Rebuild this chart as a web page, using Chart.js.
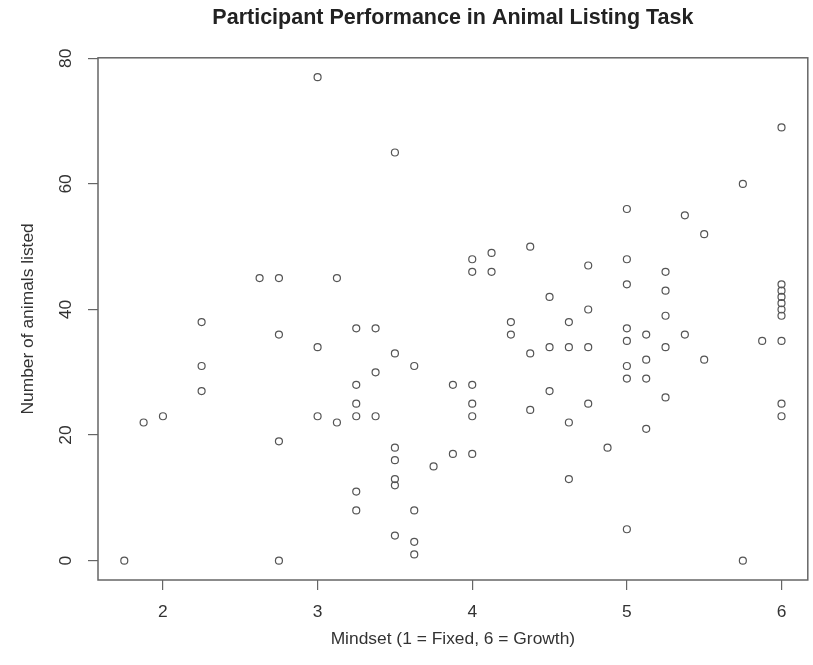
<!DOCTYPE html>
<html>
<head>
<meta charset="utf-8">
<title>Participant Performance in Animal Listing Task</title>
<script src="https://cdn.jsdelivr.net/npm/chart.js@4"></script>
<style>
    body { margin: 0; background: #fff; }
    canvas { display: block; }
</style>
</head>
<body>
<canvas id="scatterChart" width="813" height="665"></canvas>
<script>
// Scatter data (mindset score, animals listed)
const mindset = [
    1.75, 1.875, 2,
    2.25, 2.25, 2.25,
    2.625,
    2.75, 2.75, 2.75, 2.75,
    3, 3, 3,
    3.125, 3.125,
    3.25, 3.25, 3.25, 3.25, 3.25, 3.25,
    3.375, 3.375, 3.375,
    3.5, 3.5, 3.5, 3.5, 3.5, 3.5, 3.5,
    3.625, 3.625, 3.625, 3.625,
    3.75,
    3.875, 3.875,
    4, 4, 4, 4, 4, 4,
    4.125, 4.125,
    4.25, 4.25,
    4.375, 4.375, 4.375,
    4.5, 4.5, 4.5,
    4.625, 4.625, 4.625, 4.625,
    4.75, 4.75, 4.75, 4.75,
    4.875,
    5, 5, 5, 5, 5, 5, 5, 5,
    5.125, 5.125, 5.125, 5.125,
    5.25, 5.25, 5.25, 5.25, 5.25,
    5.375, 5.375,
    5.5, 5.5,
    5.75, 5.75,
    5.875,
    6, 6, 6, 6, 6, 6, 6, 6, 6, 6
];
const animals = [
    0, 22, 23,
    38, 31, 27,
    45,
    45, 36, 19, 0,
    77, 34, 23,
    45, 22,
    37, 28, 25, 23, 11, 8,
    37, 30, 23,
    65, 33, 18, 16, 13, 12, 4,
    31, 8, 3, 1,
    15,
    28, 17,
    48, 46, 28, 25, 23, 17,
    49, 46,
    38, 36,
    50, 33, 24,
    42, 34, 27,
    38, 34, 22, 13,
    47, 40, 34, 25,
    18,
    56, 48, 44, 37, 35, 31, 29, 5,
    36, 32, 29, 21,
    46, 43, 39, 34, 26,
    55, 36,
    52, 32,
    60, 0,
    35,
    69, 44, 43, 42, 41, 40, 39, 35, 25, 23
];

const xTicks = [2, 3, 4, 5, 6];
const yTicks = [0, 20, 40, 60, 80];

const points = mindset.map((m, i) => ({ x: m, y: animals[i] }));

// R style box around the plot region
const boxPlugin = {
    id: 'plotBox',
    afterDraw(chart) {
        const { ctx, chartArea } = chart;
        ctx.save();
        ctx.strokeStyle = '#666';
        ctx.lineWidth = 1.5;
        ctx.strokeRect(chartArea.left, chartArea.top,
            chartArea.right - chartArea.left, chartArea.bottom - chartArea.top);
        ctx.restore();
    }
};

const textColor = '#333';
const font = { family: 'Liberation Sans, Arial, sans-serif', size: 17.4 };

new Chart(document.getElementById('scatterChart'), {
    type: 'scatter',
    data: {
        datasets: [{
            data: points,
            pointRadius: 3.5,
            pointBorderWidth: 1.2,
            pointBorderColor: '#555',
            pointBackgroundColor: 'rgba(0,0,0,0)'
        }]
    },
    options: {
        responsive: false,
        animation: false,
        layout: { padding: { top: 0, right: 5, bottom: 0, left: 0 } },
        plugins: {
            legend: { display: false },
            tooltip: { enabled: false },
            title: {
                display: true,
                text: 'Participant Performance in Animal Listing Task',
                fullSize: false,
                color: '#222',
                font: { family: 'Liberation Sans, Arial, sans-serif', size: 21.5, weight: 'bold' },
                padding: { top: 5, bottom: 27 }
            }
        },
        scales: {
            x: {
                type: 'linear',
                min: 1.58,
                max: 6.17,
                afterBuildTicks: s => { s.ticks = xTicks.map(v => ({ value: v })); },
                afterFit: s => { s.height = 85; },
                border: { display: false },
                grid: { drawOnChartArea: false, drawTicks: true, tickLength: 10, color: '#666', lineWidth: 1.2 },
                ticks: { color: textColor, font: font, padding: 12, maxRotation: 0 },
                title: {
                    display: true,
                    text: 'Mindset (1 = Fixed, 6 = Growth)',
                    color: textColor,
                    font: font,
                    padding: { top: 0, bottom: 15 }
                }
            },
            y: {
                type: 'linear',
                min: -3.08,
                max: 80.08,
                afterBuildTicks: s => { s.ticks = yTicks.map(v => ({ value: v })); },
                afterFit: s => { s.width = 98; },
                border: { display: false },
                grid: { drawOnChartArea: false, drawTicks: true, tickLength: 10, color: '#666', lineWidth: 1.2 },
                ticks: { color: textColor, font: font, padding: 12, minRotation: 90, maxRotation: 90, crossAlign: 'center' },
                title: {
                    display: true,
                    text: 'Number of animals listed',
                    color: textColor,
                    font: font,
                    padding: { top: 18, bottom: 0 }
                }
            }
        }
    },
    plugins: [boxPlugin]
});
</script>
</body>
</html>
